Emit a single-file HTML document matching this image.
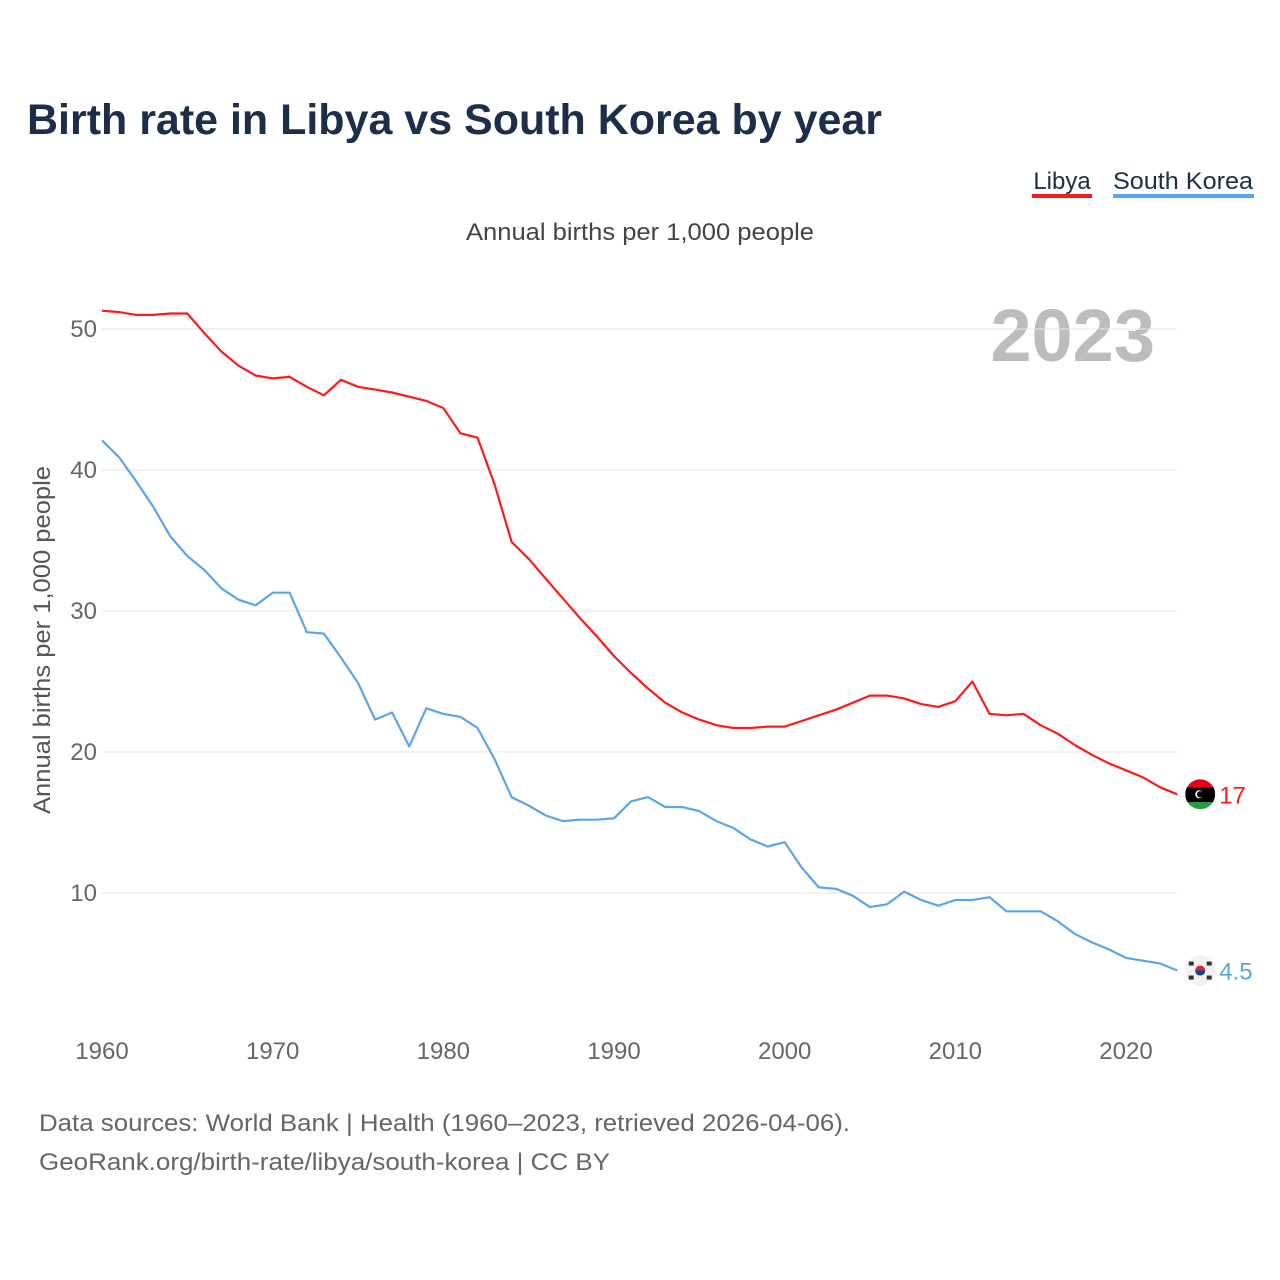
<!DOCTYPE html>
<html><head><meta charset="utf-8"><style>
body{margin:0;background:#fff;font-family:"Liberation Sans",sans-serif;}
svg{display:block}
</style></head><body>
<svg id="chart" width="1280" height="1280" viewBox="0 0 1280 1280">
<text x="27" y="134" font-size="43" font-weight="bold" fill="#1c2e4a" textLength="855" lengthAdjust="spacingAndGlyphs">Birth rate in Libya vs South Korea by year</text>
<g>
<g><text x="1062" y="189" font-size="24" fill="#1c2e4a" text-anchor="middle">Libya</text><rect x="1032" y="194" width="60" height="4" fill="#ff1a1a"/></g>
<g><text x="1183" y="189" font-size="24" fill="#1c2e4a" text-anchor="middle" textLength="140" lengthAdjust="spacingAndGlyphs">South Korea</text><rect x="1113" y="194" width="141" height="4" fill="#5aa5ea"/></g>
</g>
<text x="466" y="240" font-size="24" fill="#444" textLength="348" lengthAdjust="spacingAndGlyphs">Annual births per 1,000 people</text>
<text x="1155" y="361" font-size="74" font-weight="bold" fill="#bdbdbd" text-anchor="end">2023</text>
<text transform="translate(50,640) rotate(-90)" font-size="24" fill="#555" text-anchor="middle" textLength="348" lengthAdjust="spacingAndGlyphs">Annual births per 1,000 people</text>
<g id="grid"></g><g id="series"></g>
<text x="39" y="1131" font-size="24" fill="#666" textLength="811" lengthAdjust="spacingAndGlyphs">Data sources: World Bank | Health (1960–2023, retrieved 2026-04-06).</text>
<text x="39" y="1170" font-size="24" fill="#666" textLength="571" lengthAdjust="spacingAndGlyphs">GeoRank.org/birth-rate/libya/south-korea | CC BY</text>
</svg>
<script>
const startYear = 1960;
const libya = [51.3,51.2,51.0,51.0,51.1,51.1,49.7,48.4,47.4,46.7,46.5,46.6,45.9,45.3,46.4,45.9,45.7,45.5,45.2,44.9,44.4,42.6,42.3,39.0,34.9,33.7,32.3,30.9,29.5,28.2,26.8,25.6,24.5,23.5,22.8,22.3,21.9,21.7,21.7,21.8,21.8,22.2,22.6,23.0,23.5,24.0,24.0,23.8,23.4,23.2,23.6,25.0,22.7,22.6,22.7,21.9,21.3,20.5,19.8,19.2,18.7,18.2,17.5,17.0];
const korea = [42.1,40.9,39.2,37.4,35.3,33.9,32.9,31.6,30.8,30.4,31.3,31.3,28.5,28.4,26.7,24.9,22.3,22.8,20.4,23.1,22.7,22.5,21.7,19.5,16.8,16.2,15.5,15.1,15.2,15.2,15.3,16.5,16.8,16.1,16.1,15.8,15.1,14.6,13.8,13.3,13.6,11.8,10.4,10.3,9.8,9.0,9.2,10.1,9.5,9.1,9.5,9.5,9.7,8.7,8.7,8.7,8.0,7.1,6.5,6.0,5.4,5.2,5.0,4.5];
const yTicks = [10,20,30,40,50];
const xTicks = [1960,1970,1980,1990,2000,2010,2020];
const endLabels = ["17","4.5"];
const NS="http://www.w3.org/2000/svg";
const xs = y => 102 + (y-1960)*1024/60;
const ys = v => 1034 - v*14.1;
const grid=document.getElementById('grid'), ser=document.getElementById('series');
function mk(tag,attrs,parent){const e=document.createElementNS(NS,tag);for(const k in attrs)e.setAttribute(k,attrs[k]);parent.appendChild(e);return e;}
yTicks.forEach(t=>{
  const l=mk('line',{x1:102,x2:1177,y1:ys(t),y2:ys(t),stroke:'#e6e6e6','stroke-width':1},grid);
  
  
  const tx=mk('text',{x:97,y:ys(t)+8,'font-size':24,fill:'#666','text-anchor':'end'},grid);
  tx.textContent=t;
  
  
});
xTicks.forEach(t=>{
  const tx=mk('text',{x:xs(t),y:1059,'font-size':24,fill:'#666','text-anchor':'middle'},grid);
  tx.textContent=t;
  
  
});
function line(data,color,name){
  const d=data.map((v,i)=>(i?'L':'M')+xs(startYear+i).toFixed(1)+','+ys(v).toFixed(1)).join('');
  const p=mk('path',{d:d,fill:'none',stroke:color,'stroke-width':2.2,'stroke-linejoin':'round'},ser);
  
  
}
line(libya,'#ff1a1a','libya-line');
line(korea,'#5aa5ea','south-korea-line');
const lastYear=startYear+libya.length-1;
const lx=xs(lastYear)+23, ly=ys(libya[libya.length-1]);
const fg=mk('g',{},ser);


const cp=mk('clipPath',{id:'c1'},fg);
mk('circle',{cx:lx,cy:ly,r:15},cp);
const gg=mk('g',{'clip-path':'url(#c1)'},fg);
mk('rect',{x:lx-15,y:ly-15,width:30,height:8,fill:'#e70013'},gg);
mk('rect',{x:lx-15,y:ly-7,width:30,height:15,fill:'#000'},gg);
mk('rect',{x:lx-15,y:ly+8,width:30,height:7,fill:'#239e46'},gg);
mk('circle',{cx:lx-1,cy:ly,r:4,fill:'#fff'},gg);
mk('circle',{cx:lx,cy:ly,r:3.2,fill:'#000'},gg);
const t1=mk('text',{x:lx+19,y:ly+9,'font-size':24,fill:'#ff1a1a'},ser);
t1.textContent=endLabels[0];


const kx=xs(lastYear)+23, ky=ys(korea[korea.length-1]);
const kg=mk('g',{},ser);


mk('circle',{cx:kx,cy:ky,r:15,fill:'#f2f2f2'},kg);
mk('circle',{cx:kx,cy:ky,r:5,fill:'#cd2e3a'},kg);
mk('path',{d:`M${kx-5},${ky} a5,5 0 0,0 10,0z`,fill:'#0047a0'},kg);
[[-9,-7],[9,-7],[-9,7],[9,7]].forEach(o=>mk('rect',{x:kx+o[0]-2.5,y:ky+o[1]-2,width:5,height:4,fill:'#333'},kg));
const t2=mk('text',{x:kx+19,y:ky+9,'font-size':24,fill:'#5aa5ea'},ser);
t2.textContent=endLabels[1];


</script>
</body></html>
